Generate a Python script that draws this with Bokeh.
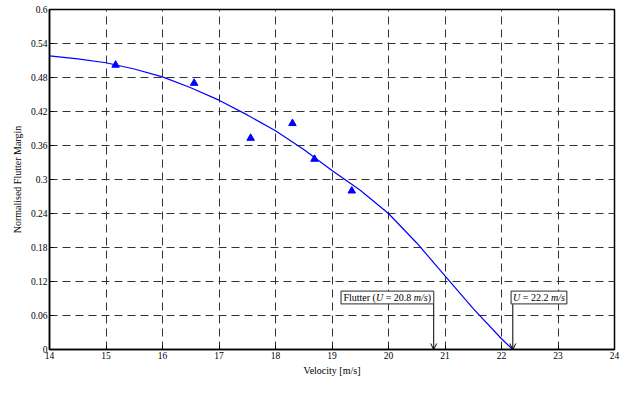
from bokeh.plotting import figure
from bokeh.models import FixedTicker, Label, BoxAnnotation, Arrow, OpenHead, Range1d
from bokeh.embed import file_html
from bokeh.resources import INLINE

# ---- data ----
curve_v = [14.0, 14.5, 15.0, 15.5, 16.0, 16.5, 17.0, 17.5, 18.0, 18.5, 19.0, 19.5,
           20.0, 20.5, 21.0, 21.5, 22.0, 22.2]
curve_m = [0.518, 0.513, 0.506, 0.495, 0.481, 0.462, 0.440, 0.414, 0.386, 0.353, 0.316, 0.281,
           0.240, 0.188, 0.130, 0.072, 0.019, 0.0]
test_v = [15.17, 16.56, 17.56, 18.30, 18.69, 19.35]
test_m = [0.502, 0.470, 0.373, 0.399, 0.336, 0.280]
x_ticks = [14, 15, 16, 17, 18, 19, 20, 21, 22, 23, 24]
y_ticks = [0, 0.06, 0.12, 0.18, 0.24, 0.3, 0.36, 0.42, 0.48, 0.54, 0.6]
y_tick_labels = ["0", "0.06", "0.12", "0.18", "0.24", "0.3", "0.36", "0.42", "0.48", "0.54", "0.6"]
flutter_u = 20.8
zero_u = 22.2

FONT = "Liberation Serif"

p = figure(width=619, height=378, output_backend="svg", toolbar_location=None,
           x_range=Range1d(14, 24), y_range=Range1d(0, 0.6),
           min_border_left=49, min_border_right=5, min_border_top=9, min_border_bottom=28)
p.background_fill_color = "white"
p.border_fill_color = "white"
p.outline_line_color = "black"
p.outline_line_width = 1.5
p.outline_line_alpha = 1

for ax in (p.xaxis[0], p.yaxis[0]):
    ax.axis_line_color = "black"
    ax.axis_line_width = 1.5
    ax.major_tick_in = 4
    ax.major_tick_out = 0
    ax.minor_tick_in = 0
    ax.minor_tick_out = 0
    ax.major_tick_line_color = "black"
    ax.major_label_text_font = FONT
    ax.major_label_text_font_size = "9.5px"
    ax.major_label_text_color = "black"
    ax.major_label_standoff = 2
    ax.axis_label_text_font = FONT
    ax.axis_label_text_font_size = "10px"
    ax.axis_label_text_font_style = "normal"
    ax.axis_label_text_color = "black"

p.xaxis.ticker = FixedTicker(ticks=x_ticks)
p.yaxis.ticker = FixedTicker(ticks=y_ticks)
p.yaxis.major_label_overrides = {t: s for t, s in zip(y_ticks, y_tick_labels)}
p.yaxis.axis_label = "Normalised Flutter Margin"
p.yaxis.axis_label_standoff = 5
p.xaxis.axis_label = "Velocity [m/s]"
p.xaxis.axis_label_standoff = 3

for g in (p.xgrid[0], p.ygrid[0]):
    g.grid_line_color = "#333333"
    g.grid_line_dash = "8 5"
    g.grid_line_width = 1
    g.grid_line_alpha = 1

# curve and test points
p.line(curve_v, curve_m, line_color="#0000ff", line_width=1.2)
p.scatter(test_v, test_m, marker="triangle", size=7.5, fill_color="#0000ff", line_color="#0000ff")

BOX_BOTTOM = 0.0805
BOX_TOP = 0.103
BOX_MID = 0.0915

# arrows
for u in (flutter_u, zero_u):
    p.add_layout(Arrow(end=OpenHead(size=6, line_color="black", line_width=1),
                       x_start=u, y_start=BOX_BOTTOM, x_end=u, y_end=0,
                       line_color="black", line_width=1))

b1 = flutter_u - 1.64
b2 = zero_u - 0.03
# boxes
p.add_layout(BoxAnnotation(left=b1, right=flutter_u, bottom=BOX_BOTTOM, top=BOX_TOP,
                           fill_color="white", fill_alpha=1, line_color="#555555", line_width=1.3,
                           line_alpha=1))
p.add_layout(BoxAnnotation(left=b2, right=b2 + 0.986, bottom=BOX_BOTTOM, top=BOX_TOP,
                           fill_color="white", fill_alpha=1, line_color="#555555", line_width=1.3,
                           line_alpha=1))


def piece(x, off, txt, italic=False):
    p.add_layout(Label(x=x, y=BOX_MID, x_offset=off, text=txt, text_align="left",
                       text_baseline="middle", text_font=FONT, text_font_size="10px",
                       text_font_style="italic" if italic else "normal", text_color="black"))


piece(b1, 2.4, "Flutter (")
piece(b1, 34.9, "U", True)
piece(b1, 44.6, "=")
piece(b1, 52.7, "%.1f" % flutter_u)
piece(b1, 72.7, "m/s", True)
piece(b1, 86.6, ")")

piece(b2, 2.0, "U", True)
piece(b2, 11.7, "=")
piece(b2, 19.8, "%.1f" % zero_u)
piece(b2, 39.8, "m/s", True)

open("out.html", "w").write(file_html(p, INLINE))
